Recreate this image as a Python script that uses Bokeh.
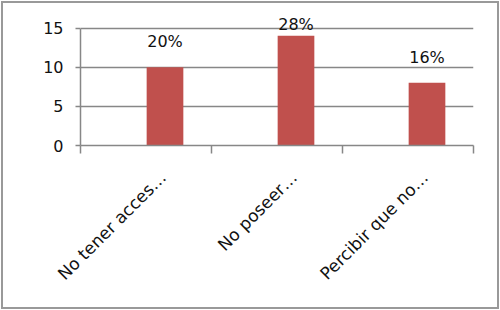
from bokeh.plotting import figure
from bokeh.models import ColumnDataSource, FixedTicker, LabelSet, Range1d
from bokeh.core.properties import value
from bokeh.embed import file_html
from bokeh.resources import INLINE
import math

categories = ["No tener acces…", "No poseer…", "Percibir que no…"]
values = [10, 14, 8]
pct_labels = ["20%", "28%", "16%"]
y_ticks = [0, 5, 10, 15]

x_pos = [i + 0.5 for i in range(len(categories))]
bar_pos = [x + 0.145 for x in x_pos]
label_pos = [x + 0.13 for x in x_pos]
label_y = [min(v + 3.3, 15.5) for v in values]

src = ColumnDataSource(dict(x=bar_pos, top=values, lab=pct_labels, ly=label_y))

GRAY = "#878787"
FONT = "DejaVu Sans"

p = figure(width=498, height=308, output_backend="svg", toolbar_location=None,
           x_range=Range1d(0, len(categories)), y_range=Range1d(0, 16.6),
           min_border_left=77, min_border_right=28, min_border_top=12,
           min_border_bottom=166)
p.styles = {"border": "2px solid #999999", "margin": "1px"}
p.outline_line_color = None
p.background_fill_color = "white"
p.border_fill_color = "white"

p.vbar(x="x", top="top", width=0.28, bottom=0, source=src,
       fill_color="#C0504D", line_color=None)

labels = LabelSet(x="x", y="ly", text="lab", source=src, text_align="center",
                  text_baseline="middle", text_font=value(FONT),
                  text_font_size="16px", text_color="#111111", level="overlay")
p.add_layout(labels)

# x axis
p.xaxis.ticker = FixedTicker(ticks=label_pos, minor_ticks=list(range(len(categories) + 1)))
p.xaxis.major_label_overrides = {x: c for x, c in zip(label_pos, categories)}
p.xaxis.major_tick_line_color = None
p.xaxis.minor_tick_in = 0
p.xaxis.minor_tick_out = 8
p.xaxis.minor_tick_line_color = GRAY
p.xaxis.minor_tick_line_width = 1.5
p.xaxis.axis_line_color = GRAY
p.xaxis.axis_line_width = 1.5
p.xaxis.major_label_orientation = math.pi / 4
p.xaxis.major_label_standoff = 21
p.xaxis.major_label_text_font = FONT
p.xaxis.major_label_text_font_size = "17px"
p.xaxis.major_label_text_color = "#111111"

# y axis
p.yaxis.ticker = FixedTicker(ticks=y_ticks, minor_ticks=[])
p.yaxis.bounds = (0, 15)
p.yaxis.major_tick_in = 0
p.yaxis.major_tick_out = 5
p.yaxis.major_tick_line_color = GRAY
p.yaxis.major_tick_line_width = 1.5
p.yaxis.axis_line_color = GRAY
p.yaxis.axis_line_width = 1.5
p.yaxis.major_label_standoff = 12
p.yaxis.major_label_text_font = FONT
p.yaxis.major_label_text_font_size = "16px"
p.yaxis.major_label_text_color = "#111111"

p.xgrid.grid_line_color = None
p.ygrid.ticker = FixedTicker(ticks=y_ticks)
p.ygrid.grid_line_color = GRAY
p.ygrid.grid_line_width = 1.5

open("out.html", "w").write(file_html(p, INLINE))
